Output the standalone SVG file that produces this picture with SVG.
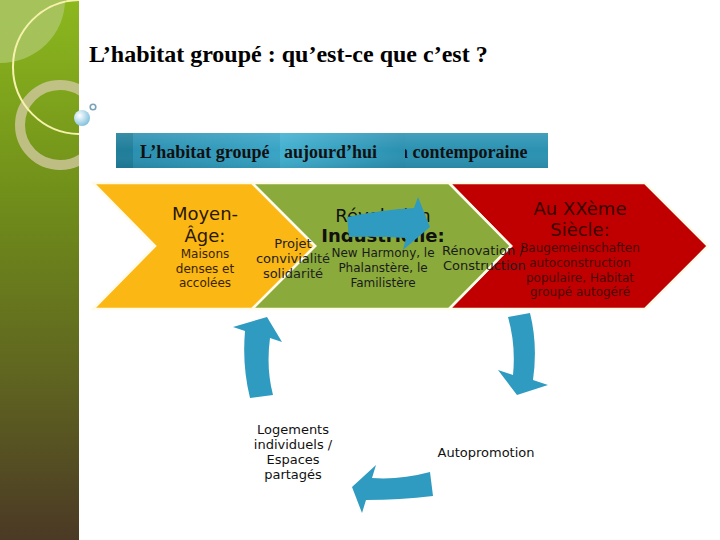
<svg xmlns="http://www.w3.org/2000/svg" width="720" height="540" viewBox="0 0 720 540">
<defs>
<linearGradient id="side" x1="0" y1="0" x2="0" y2="1">
<stop offset="0" stop-color="#8cb81e"/>
<stop offset="0.35" stop-color="#71901a"/>
<stop offset="0.7" stop-color="#5f6420"/>
<stop offset="1" stop-color="#4b3925"/>
</linearGradient>
<radialGradient id="bubble" cx="0.35" cy="0.35" r="0.7">
<stop offset="0" stop-color="#ffffff"/>
<stop offset="1" stop-color="#7fc0dc"/>
</radialGradient>
<linearGradient id="seg2" x1="0" y1="0" x2="1" y2="0">
<stop offset="0" stop-color="#2a8fb0"/>
<stop offset="1" stop-color="#38a4c5"/>
</linearGradient>
<linearGradient id="seg3" x1="0" y1="0" x2="1" y2="0">
<stop offset="0" stop-color="#42b0d0"/>
<stop offset="1" stop-color="#2a90b0"/>
</linearGradient>
<linearGradient id="shade" x1="0" y1="0" x2="0" y2="1">
<stop offset="0" stop-color="#ffffff" stop-opacity="0.12"/>
<stop offset="0.5" stop-color="#ffffff" stop-opacity="0"/>
<stop offset="1" stop-color="#000000" stop-opacity="0.08"/>
</linearGradient>
<clipPath id="seg4clip"><rect x="405" y="133" width="143" height="35"/></clipPath>
<clipPath id="sideclip"><rect x="0" y="0" width="79" height="540"/></clipPath>
<style>
.ttl{font-family:"Liberation Serif","Times New Roman",serif;font-weight:bold;fill:#000}
.bar{font-family:"Liberation Serif","Times New Roman",serif;font-weight:bold;font-size:18px;fill:#111}
.hd{font-family:"DejaVu Sans",Verdana,sans-serif;font-size:18px;text-anchor:middle}
.bd{font-family:"DejaVu Sans",Verdana,sans-serif;font-size:12px;text-anchor:middle}
.md{font-family:"DejaVu Sans",Verdana,sans-serif;font-size:13px}
.chev{stroke:#fffbea;stroke-width:2.5;stroke-linejoin:miter}
.arr{fill:#2f9bc1}
</style>
</defs>

<g id="background">
<rect width="720" height="540" fill="#ffffff"/>
<rect x="0" y="0" width="79" height="540" fill="url(#side)"/>
<g clip-path="url(#sideclip)">
<path d="M0,0 H65 A65,63 0 0 1 0,63 Z" fill="#a8c462" opacity="0.9"/>
<circle cx="60" cy="125" r="40" fill="none" stroke="#cbc696" stroke-width="10" opacity="0.85"/>
<circle cx="80" cy="67" r="67" fill="none" stroke="#f6f2ac" stroke-width="2"/>
</g>
<circle cx="82" cy="118" r="8" fill="url(#bubble)"/>
<circle cx="93" cy="107" r="2.8" fill="none" stroke="#7aa2b8" stroke-width="1.6"/>
</g>

<g id="title">
<text class="ttl" x="89" y="62" font-size="24">L’habitat groupé : qu’est-ce que c’est ?</text>
</g>

<g id="banner">
<rect x="116" y="133" width="17" height="35" fill="#1f7e9a"/>
<rect x="133" y="133" width="147" height="35" fill="url(#seg2)"/>
<rect x="280" y="133" width="125" height="35" fill="url(#seg3)"/>
<rect x="405" y="133" width="143" height="35" fill="#2b92b2"/>
<rect x="116" y="133" width="432" height="35" fill="url(#shade)"/>
<text class="bar" x="140" y="158">L’habitat groupé</text>
<text class="bar" x="284" y="158">aujourd’hui</text>
<text class="bar" x="398" y="158" clip-path="url(#seg4clip)">n contemporaine</text>
</g>

<g id="node-xxe">
<polygon class="chev" points="449,183 645,183 708,246 645,309 449,309 511,246" fill="#c00000"/>
<text class="hd" x="580" y="215" fill="#3a0000">Au XXème</text>
<text class="hd" x="580" y="236" fill="#3a0000">Siècle:</text>
<text class="bd" x="580" y="252" fill="#4a0606">Baugemeinschaften</text>
<text class="bd" x="580" y="267" fill="#4a0606">autoconstruction</text>
<text class="bd" x="580" y="282" fill="#4a0606">populaire, Habitat</text>
<text class="bd" x="580" y="296" fill="#4a0606">groupé autogéré</text>
</g>

<g id="node-revolution">
<polygon class="chev" points="252,183 449,183 511,246 449,309 252,309 315,246" fill="#8aaa3b"/>
<text class="hd" x="383" y="222" fill="#111">Révolution</text>
<text class="hd" x="383" y="242" fill="#111" font-weight="bold">Industrielle:</text>
<text class="bd" x="383" y="257" fill="#1a1a1a">New Harmony, le</text>
<text class="bd" x="383" y="272" fill="#1a1a1a">Phalanstère, le</text>
<text class="bd" x="383" y="287" fill="#1a1a1a">Familistère</text>
</g>

<g id="node-moyen-age">
<polygon class="chev" points="93,183 252,183 315,246 252,309 93,309 155,246" fill="#fbb714"/>
<text class="hd" x="205" y="220" fill="#2a1800">Moyen-</text>
<text class="hd" x="205" y="242" fill="#2a1800">Âge:</text>
<text class="bd" x="205" y="258" fill="#3a2400">Maisons</text>
<text class="bd" x="205" y="273" fill="#3a2400">denses et</text>
<text class="bd" x="205" y="287" fill="#3a2400">accolées</text>
</g>

<g id="node-projet">
<text class="md" x="293" y="248" text-anchor="middle" fill="#222">Projet</text>
<text class="md" x="293" y="263" text-anchor="middle" fill="#222">convivialité</text>
<text class="md" x="293" y="278" text-anchor="middle" fill="#222">solidarité</text>
</g>

<g id="node-renovation">
<text class="md" x="442" y="255" fill="#1a1a1a">Rénovation /</text>
<text class="md" x="443" y="270" fill="#1a1a1a">Construction</text>
</g>

<g id="node-logements">
<text class="md" x="293" y="434" text-anchor="middle" fill="#111">Logements</text>
<text class="md" x="293" y="449" text-anchor="middle" fill="#111">individuels /</text>
<text class="md" x="293" y="464" text-anchor="middle" fill="#111">Espaces</text>
<text class="md" x="293" y="479" text-anchor="middle" fill="#111">partagés</text>
</g>

<g id="node-autopromotion">
<text class="md" x="486" y="457" text-anchor="middle" fill="#111">Autopromotion</text>
</g>

<g id="connectors">
<path class="arr" d="M347,217 Q380,210 414,208 L418,197 L430,227 L403,250 L406,238 Q378,236 349,237 Z"/>
<path class="arr" d="M508,317 L530,313 Q538,345 533,380 L548,385 L517,395 L498,370 L513,375 Q516,345 508,317 Z"/>
<path class="arr" d="M430,472 L433,496 Q400,500 366,500 L362,513 L352,487 L376,465 L372,478 Q400,480 430,472 Z"/>
<path class="arr" d="M250,398 Q242,366 245,331 L233,327 L267,317 L282,342 L270,338 Q266,368 273,395 Z"/>
</g>
</svg>
